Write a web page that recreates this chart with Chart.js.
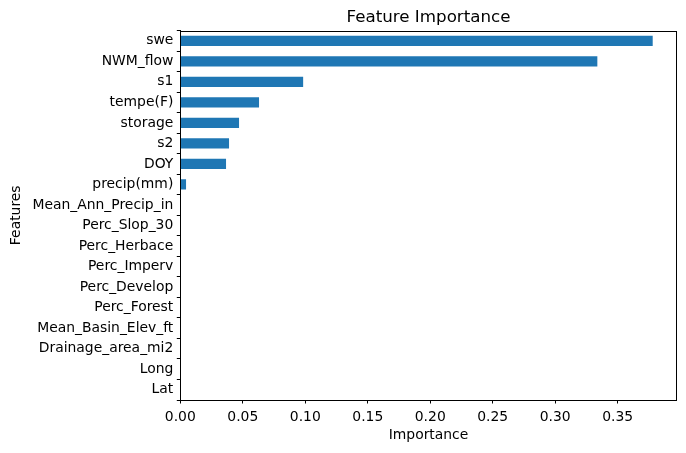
<!DOCTYPE html>
<html>
<head>
<meta charset="utf-8">
<script src="https://cdn.jsdelivr.net/npm/chart.js@4.4.0/dist/chart.umd.min.js"></script>
<style>
  html, body { margin: 0; padding: 0; background: #fff; }
  #chart { display: block; }
</style>
</head>
<body>
<canvas id="chart" width="686" height="453"></canvas>
<script>
const features = ['swe', 'NWM_flow', 's1', 'tempe(F)', 'storage', 's2', 'DOY', 'precip(mm)',
    'Mean_Ann_Precip_in', 'Perc_Slop_30', 'Perc_Herbace', 'Perc_Imperv', 'Perc_Develop',
    'Perc_Forest', 'Mean_Basin_Elev_ft', 'Drainage_area_mi2', 'Long', 'Lat'];
const importance = [0.378, 0.3337, 0.0983, 0.0630, 0.0470, 0.0390, 0.0366, 0.0046,
    0, 0, 0, 0, 0, 0, 0, 0, 0, 0];
const xTicks = [0, 0.05, 0.10, 0.15, 0.20, 0.25, 0.30, 0.35];
const xMax = 0.3972;

const tickFont = { family: 'DejaVu Sans', size: 13.9 };

// matplotlib style full frame around the axes
const framePlugin = {
    id: 'frame',
    afterDraw(chart) {
        const { ctx, chartArea: a } = chart;
        ctx.save();
        ctx.strokeStyle = '#000';
        ctx.lineWidth = 1;
        ctx.strokeRect(Math.round(a.left) + 0.5, Math.round(a.top) + 0.5,
            Math.round(a.right - a.left), Math.round(a.bottom - a.top));
        ctx.restore();
    }
};

new Chart(document.getElementById('chart'), {
    type: 'bar',
    data: {
        labels: features,
        datasets: [{
            data: importance,
            backgroundColor: '#1f77b4',
            barPercentage: 0.5,
            categoryPercentage: 1.0
        }]
    },
    options: {
        indexAxis: 'y',
        responsive: false,
        animation: false,
        layout: { padding: { left: 0, right: 9.3, top: 0, bottom: 0 } },
        plugins: {
            legend: { display: false },
            tooltip: { enabled: false },
            title: {
                display: true,
                text: 'Feature Importance',
                fullSize: false,
                color: '#000',
                font: { family: 'DejaVu Sans', size: 16.7, weight: 'normal' },
                padding: { top: 7.5, bottom: 3 }
            }
        },
        scales: {
            x: {
                min: 0,
                max: xMax,
                afterBuildTicks: s => { s.ticks = xTicks.map(v => ({ value: v })); },
                afterFit: s => { s.height = 53; },
                ticks: {
                    color: '#000',
                    font: tickFont,
                    padding: 5.5,
                    maxRotation: 0,
                    callback: v => Number(v).toFixed(2)
                },
                grid: { drawOnChartArea: false, drawTicks: true, tickLength: 3.5, color: '#000' },
                border: { display: true, color: '#000' },
                title: {
                    display: true,
                    text: 'Importance',
                    color: '#000',
                    font: tickFont,
                    padding: { top: 0, bottom: 9 }
                }
            },
            y: {
                afterFit: s => { s.width = 180.3; },
                ticks: { color: '#000', font: tickFont, padding: 3.5, autoSkip: false },
                grid: { drawOnChartArea: false, drawTicks: true, tickLength: 3.5, color: '#000' },
                border: { display: true, color: '#000' },
                title: {
                    display: true,
                    text: 'Features',
                    color: '#000',
                    font: tickFont,
                    padding: { top: 7.7, bottom: 0 }
                }
            }
        }
    },
    plugins: [framePlugin]
});
</script>
</body>
</html>
